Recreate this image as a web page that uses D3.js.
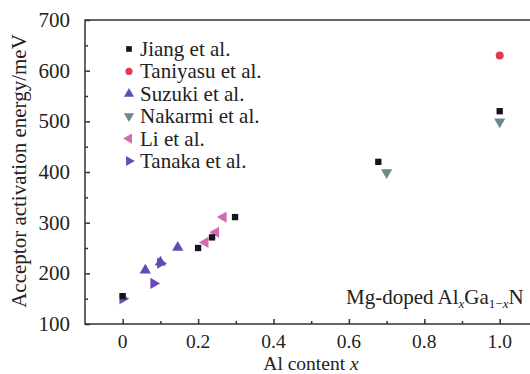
<!DOCTYPE html>
<html>
<head>
<meta charset="UTF-8">
<script src="https://cdn.jsdelivr.net/npm/d3@7"></script>
<style>
  body { margin: 0; background: white; }
  svg { display: block; }
  svg text { font-family: "Liberation Serif", "Times New Roman", serif; fill: #222; }
</style>
</head>
<body>
<div id="chart"></div>
<script>
// data
const series = ["Jiang et al.", "Taniyasu et al.", "Suzuki et al.", "Nakarmi et al.", "Li et al.", "Tanaka et al."];
const jiangX = [0, 0.2, 0.237, 0.298, 0.678, 1.0];
const jiangY = [155, 250, 271, 311, 420, 520];
const taniyasuX = [1.0];
const taniyasuY = [630];
const suzukiX = [0.06, 0.1, 0.146];
const suzukiY = [206, 222, 251];
const nakarmiX = [0.7, 1.0];
const nakarmiY = [399, 499];
const liX = [0.219, 0.247, 0.267];
const liY = [261, 281, 311];
const tanakaX = [0, 0.082, 0.1];
const tanakaY = [150, 180, 220];
const yTicks = [100, 200, 300, 400, 500, 600, 700];
const xTicks = [0, 0.2, 0.4, 0.6, 0.8, 1.0];

const w = 530, h = 374;
const padLeft = 85, padTop = 20, padBottom = 324;

const x = d3.scaleLinear().domain([-0.1, 1.1]).range([padLeft, padLeft + 1.2 * 377]);
const y = d3.scaleLinear().domain([100, 700]).range([padBottom, padTop]);

const svg = d3.select('#chart').append('svg').attr('width', w).attr('height', h);

// frame
svg.append('path')
    .attr('d', `M${w},${padTop}H${padLeft}V${padBottom}H${w}`)
    .attr('fill', 'none').attr('stroke', '#333').attr('stroke-width', 1.5);

// y ticks (inward)
const yAxis = d3.axisRight(y).tickValues(yTicks).tickSize(5).tickFormat('');
svg.append('g').attr('transform', `translate(${padLeft},0)`).call(yAxis)
    .call(g => g.select('.domain').remove());
const yMinor = d3.axisRight(y).tickValues(d3.range(150, 700, 100)).tickSize(3).tickFormat('');
svg.append('g').attr('transform', `translate(${padLeft},0)`).call(yMinor)
    .call(g => g.select('.domain').remove());

svg.append('g').selectAll('text').data(yTicks).enter().append('text')
    .attr('x', padLeft - 15).attr('y', d => y(d) + 7)
    .attr('text-anchor', 'end').attr('font-size', 21)
    .text(d => d);

// x ticks (inward)
const xAxis = d3.axisTop(x).tickValues(xTicks).tickSize(5).tickFormat('');
svg.append('g').attr('transform', `translate(0,${padBottom})`).call(xAxis)
    .call(g => g.select('.domain').remove());
const xMinor = d3.axisTop(x).tickValues([0.1, 0.3, 0.5, 0.7, 0.9]).tickSize(3).tickFormat('');
svg.append('g').attr('transform', `translate(0,${padBottom})`).call(xMinor)
    .call(g => g.select('.domain').remove());
svg.selectAll('g line').attr('stroke', '#333').attr('stroke-width', 1.5);

svg.append('g').selectAll('text').data(xTicks).enter().append('text')
    .attr('x', d => x(d)).attr('y', 348)
    .attr('text-anchor', 'middle').attr('font-size', 19.5)
    .text(d => d === 0 ? '0' : d.toFixed(1));

// axis titles
svg.append('text')
    .attr('transform', `translate(26,171) rotate(-90)`)
    .attr('text-anchor', 'middle').attr('font-size', 21)
    .text('Acceptor activation energy/meV');
const xt = svg.append('text')
    .attr('x', 311).attr('y', 370)
    .attr('text-anchor', 'middle').attr('font-size', 19.5);
xt.append('tspan').text('Al content ');
xt.append('tspan').attr('font-style', 'italic').text('x');

// annotation
const ann = svg.append('text').attr('x', 346).attr('y', 304).attr('font-size', 21);
ann.append('tspan').text('Mg-doped Al');
ann.append('tspan').attr('font-style', 'italic').attr('font-size', 13).attr('dy', 4).text('x');
ann.append('tspan').attr('dy', -4).text('Ga');
ann.append('tspan').attr('font-size', 13).attr('dy', 4).text('1−');
ann.append('tspan').attr('font-style', 'italic').attr('font-size', 13).text('x');
ann.append('tspan').attr('dy', -4).text('N');

// markers
const sym = {
  "Jiang et al.": { shape: d3.symbolSquare, size: 40, color: '#141420', rot: 0 },
  "Taniyasu et al.": { shape: d3.symbolCircle, size: 50, color: '#e6384c', rot: 0 },
  "Suzuki et al.": { shape: d3.symbolTriangle, size: 55, color: '#5a4fb3', rot: 0 },
  "Nakarmi et al.": { shape: d3.symbolTriangle, size: 55, color: '#6a8a8c', rot: 180 },
  "Li et al.": { shape: d3.symbolTriangle, size: 55, color: '#d568b4', rot: -90 },
  "Tanaka et al.": { shape: d3.symbolTriangle, size: 55, color: '#7048bd', rot: 90 }
};
const pts = [
  [series[4], liX, liY],
  [series[5], tanakaX, tanakaY],
  [series[2], suzukiX, suzukiY],
  [series[3], nakarmiX, nakarmiY],
  [series[0], jiangX, jiangY],
  [series[1], taniyasuX, taniyasuY]
];
pts.forEach(([name, xs, ys]) => {
  const s = sym[name];
  svg.append('g').selectAll('path').data(xs).enter().append('path')
      .attr('d', d3.symbol().type(s.shape).size(s.size))
      .attr('transform', (d, i) => `translate(${x(d)},${y(ys[i])}) rotate(${s.rot})`)
      .attr('fill', s.color);
});

// legend
const legend = svg.append('g').attr('transform', 'translate(129,49)');
series.forEach((name, i) => {
  const s = sym[name];
  legend.append('path')
      .attr('d', d3.symbol().type(s.shape).size(s.size * 0.8))
      .attr('transform', `translate(0,${i * 22.4}) rotate(${s.rot})`)
      .attr('fill', s.color);
  legend.append('text')
      .attr('x', 11).attr('y', i * 22.4 + 7)
      .attr('font-size', 21)
      .text(name);
});
</script>
</body>
</html>
